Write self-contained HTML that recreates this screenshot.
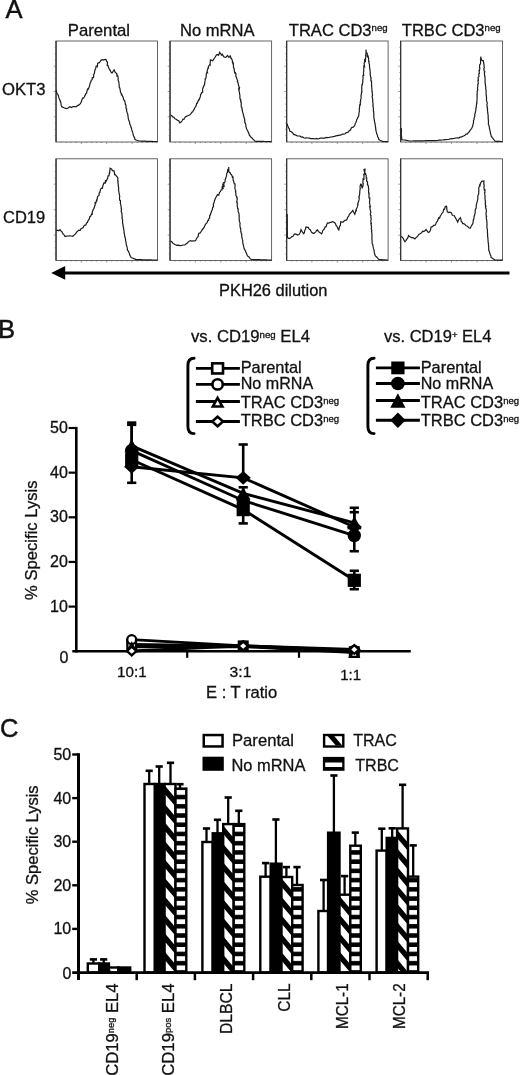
<!DOCTYPE html>
<html lang="en">
<head>
<meta charset="utf-8">
<title>Figure: PKH26 dilution and specific lysis</title>
<style>
html,body{margin:0;padding:0;background:#fff;}
body{width:520px;height:1075px;overflow:hidden;}
svg{display:block;will-change:transform;font-family:'Liberation Sans',sans-serif;}
text{font-kerning:normal;stroke:#111;stroke-width:0.3px;}
</style>
</head>
<body>
<svg width="520" height="1075" viewBox="0 0 520 1075">
<rect width="520" height="1075" fill="#fff"/>
<g id="panelA">
<text x="5.6" y="18.3" font-size="25.6" text-anchor="start" fill="#111" style="stroke-width:0.45px">A</text>
<text x="67.8" y="35.6" font-size="16.4" text-anchor="start" fill="#111" textLength="62.3" lengthAdjust="spacingAndGlyphs" >Parental</text>
<text x="180" y="35.6" font-size="16.4" text-anchor="start" fill="#111" textLength="74.5" lengthAdjust="spacingAndGlyphs" >No mRNA</text>
<text x="288.8" y="35.6" font-size="16.4" text-anchor="start" fill="#111" textLength="98.8" lengthAdjust="spacingAndGlyphs" >TRAC CD3<tspan font-size="9.5" dy="-4.2">neg</tspan></text>
<text x="401.8" y="35.6" font-size="16.4" text-anchor="start" fill="#111" textLength="98.8" lengthAdjust="spacingAndGlyphs" >TRBC CD3<tspan font-size="9.5" dy="-4.2">neg</tspan></text>
<text x="2.0" y="94.6" font-size="16.4" text-anchor="start" fill="#111" textLength="43.6" lengthAdjust="spacingAndGlyphs" >OKT3</text>
<text x="3.0" y="222.6" font-size="16.4" text-anchor="start" fill="#111" textLength="42.2" lengthAdjust="spacingAndGlyphs" >CD19</text>
<rect x="55.9" y="41.0" width="101.6" height="101.0" fill="#fff" stroke="#555" stroke-width="0.9"/>
<line x1="56.1" y1="41.0" x2="56.1" y2="142.0" stroke="#333" stroke-width="1.3"/>
<path d="M54.7 47.3H55.9M54.7 53.6H55.9M54.7 59.9H55.9M53.7 66.2H55.9M54.7 72.6H55.9M54.7 78.9H55.9M54.7 85.2H55.9M53.7 91.5H55.9M54.7 97.8H55.9M54.7 104.1H55.9M54.7 110.4H55.9M53.7 116.8H55.9M54.7 123.1H55.9M54.7 129.4H55.9M54.7 135.7H55.9M61.0 142.0v1.0M66.1 142.0v1.0M71.1 142.0v1.0M76.2 142.0v1.0M81.3 142.0v2.0M86.4 142.0v1.0M91.5 142.0v1.0M96.5 142.0v1.0M101.6 142.0v1.0M106.7 142.0v2.0M111.8 142.0v1.0M116.9 142.0v1.0M121.9 142.0v1.0M127.0 142.0v1.0M132.1 142.0v2.0M137.2 142.0v1.0M142.3 142.0v1.0M147.3 142.0v1.0M152.4 142.0v1.0" stroke="#555" stroke-width="0.6" fill="none"/>
<path d="M56.2 90.0 L56.4 90.9 L56.8 93.0 L57.4 94.1 L58.1 94.8 L58.7 96.6 L58.9 97.9 L59.9 99.9 L60.0 100.6 L60.9 102.7 L61.0 103.9 L61.3 105.8 L61.9 106.9 L62.3 106.9 L63.9 107.8 L65.0 108.2 L66.6 108.6 L68.1 108.0 L69.8 106.8 L71.5 107.5 L73.1 106.6 L74.4 106.5 L76.1 106.8 L77.5 105.6 L79.0 104.9 L79.9 104.2 L80.5 103.4 L81.6 101.1 L82.1 99.3 L83.0 97.9 L83.6 98.0 L84.2 97.0 L85.1 95.4 L85.6 93.9 L86.6 93.2 L87.0 91.2 L87.6 89.0 L88.5 89.1 L88.6 88.3 L89.5 86.0 L90.0 83.8 L90.2 82.9 L91.1 81.4 L91.2 80.3 L92.2 79.7 L92.3 77.6 L93.1 77.6 L93.6 77.2 L93.7 74.4 L94.5 73.3 L94.3 73.9 L94.8 70.3 L95.4 69.2 L95.6 69.0 L96.2 65.9 L96.7 65.8 L97.3 66.5 L97.6 63.8 L97.9 63.1 L99.4 62.7 L100.3 61.3 L101.2 60.1 L102.6 59.6 L103.3 60.0 L104.5 59.7 L105.6 59.4 L106.0 59.5 L106.6 61.1 L107.5 62.1 L107.2 65.4 L107.9 65.4 L108.3 67.1 L109.7 69.9 L109.8 69.9 L110.1 70.0 L110.8 72.0 L112.0 73.0 L114.1 70.0 L114.7 71.1 L115.2 72.4 L116.7 73.6 L117.0 75.8 L117.4 75.3 L118.0 76.5 L118.2 78.9 L118.0 79.7 L118.9 82.4 L119.0 83.9 L119.2 85.2 L119.3 85.1 L119.1 86.9 L119.6 87.5 L120.1 89.4 L120.5 92.3 L121.3 93.5 L121.4 94.7 L121.8 94.4 L122.3 95.6 L123.3 97.7 L123.5 99.4 L124.2 100.3 L124.6 100.5 L125.2 103.2 L125.3 104.3 L125.8 104.6 L126.0 106.3 L126.1 108.6 L126.7 109.1 L126.5 110.9 L126.8 111.4 L127.5 113.8 L127.8 114.1 L128.0 116.6 L128.2 117.1 L128.2 118.2 L128.8 120.6 L129.3 121.3 L129.7 122.4 L129.7 124.1 L130.2 124.7 L130.7 126.0 L131.0 127.3 L131.5 128.4 L131.7 129.9 L132.3 131.3 L132.7 132.4 L133.0 133.9 L133.3 135.3 L133.9 136.7 L134.6 137.7 L135.0 139.5 L136.2 140.0 L137.5 140.5 L138.8 141.0 L140.1 141.0 L141.4 141.1 L142.8 141.1 L144.1 141.2 L145.4 141.2 L146.8 141.3 L148.1 141.3 L149.5 141.3 L150.8 141.4 L152.1 141.4 L153.5 141.5 L154.8 141.5 L156.2 141.6 L157.5 141.6" fill="none" stroke="#1c1c1c" stroke-width="1.2" stroke-linejoin="miter" stroke-miterlimit="3"/>
<rect x="55.9" y="158.8" width="101.6" height="101.7" fill="#fff" stroke="#555" stroke-width="0.9"/>
<line x1="56.1" y1="158.8" x2="56.1" y2="260.5" stroke="#333" stroke-width="1.3"/>
<path d="M54.7 165.2H55.9M54.7 171.5H55.9M54.7 177.9H55.9M53.7 184.2H55.9M54.7 190.6H55.9M54.7 196.9H55.9M54.7 203.3H55.9M53.7 209.7H55.9M54.7 216.0H55.9M54.7 222.4H55.9M54.7 228.7H55.9M53.7 235.1H55.9M54.7 241.4H55.9M54.7 247.8H55.9M54.7 254.1H55.9M61.0 260.5v1.0M66.1 260.5v1.0M71.1 260.5v1.0M76.2 260.5v1.0M81.3 260.5v2.0M86.4 260.5v1.0M91.5 260.5v1.0M96.5 260.5v1.0M101.6 260.5v1.0M106.7 260.5v2.0M111.8 260.5v1.0M116.9 260.5v1.0M121.9 260.5v1.0M127.0 260.5v1.0M132.1 260.5v2.0M137.2 260.5v1.0M142.3 260.5v1.0M147.3 260.5v1.0M152.4 260.5v1.0" stroke="#555" stroke-width="0.6" fill="none"/>
<path d="M56.2 231.0 L57.5 230.2 L58.8 230.7 L60.0 229.7 L61.0 231.1 L61.7 231.4 L62.4 232.7 L63.3 234.4 L64.3 235.1 L65.0 236.5 L66.5 236.1 L68.1 236.0 L69.5 235.9 L71.2 236.0 L72.7 236.3 L73.4 235.7 L74.9 234.4 L75.5 233.9 L76.8 232.0 L77.7 231.1 L79.0 230.2 L80.2 230.4 L81.1 228.5 L81.7 228.4 L83.1 227.8 L84.0 225.8 L84.7 225.1 L85.8 225.2 L86.5 222.9 L87.4 222.5 L88.0 220.7 L88.4 220.4 L89.3 218.9 L89.9 216.6 L90.6 216.5 L91.6 214.1 L92.2 214.3 L92.3 211.7 L93.1 210.2 L93.1 209.5 L94.0 208.6 L94.0 208.2 L94.9 205.4 L95.2 205.2 L95.1 202.7 L95.8 203.0 L96.6 200.1 L96.9 200.4 L97.4 197.6 L97.8 196.3 L98.0 196.1 L99.1 195.2 L99.1 193.1 L99.8 192.6 L100.3 190.1 L101.0 188.6 L101.7 188.2 L102.3 188.3 L102.8 186.3 L103.3 184.5 L103.9 182.9 L105.0 183.3 L105.6 180.2 L105.9 181.5 L106.8 179.9 L107.8 177.5 L108.0 175.9 L109.0 175.7 L109.3 173.2 L109.6 173.3 L109.8 170.9 L110.1 168.2 L111.8 169.1 L112.3 170.7 L114.1 170.9 L114.7 175.2 L115.0 174.2 L116.0 175.5 L116.7 176.3 L117.9 177.9 L117.7 181.7 L118.3 180.5 L117.8 182.1 L118.0 182.4 L118.3 185.3 L118.4 185.8 L118.4 186.5 L118.7 188.1 L118.5 189.3 L118.8 191.5 L119.2 193.6 L119.5 195.4 L119.8 196.6 L119.5 197.0 L119.6 200.0 L120.1 200.6 L120.4 200.1 L120.4 203.6 L120.7 204.5 L120.7 204.3 L121.1 206.5 L121.2 208.5 L121.4 209.3 L121.4 210.8 L121.1 211.2 L121.5 212.3 L122.0 213.5 L122.0 215.8 L122.2 217.2 L122.0 218.2 L122.6 220.1 L122.6 220.9 L122.5 222.5 L122.8 223.9 L123.0 224.1 L123.1 226.5 L123.7 227.8 L123.5 228.7 L123.9 230.0 L124.1 231.7 L124.0 232.9 L124.4 233.5 L124.6 235.7 L124.8 236.8 L125.1 237.5 L125.6 239.5 L125.7 240.9 L126.0 242.0 L126.1 243.3 L126.4 245.1 L126.9 246.5 L127.0 246.9 L127.4 249.0 L127.4 250.0 L128.3 251.0 L128.8 252.3 L129.4 253.5 L129.9 255.4 L130.6 256.5 L131.3 257.8 L132.5 258.0 L133.8 258.6 L135.0 259.1 L136.2 259.6 L137.6 259.6 L138.9 259.7 L140.2 259.7 L141.6 259.7 L142.9 259.8 L144.2 259.8 L145.5 259.8 L146.9 259.9 L148.2 259.9 L149.5 259.9 L150.9 259.9 L152.2 260.0 L153.5 260.0 L154.8 260.0 L156.2 260.1 L157.5 260.1" fill="none" stroke="#1c1c1c" stroke-width="1.2" stroke-linejoin="miter" stroke-miterlimit="3"/>
<rect x="169.9" y="41.0" width="101.7" height="101.0" fill="#fff" stroke="#555" stroke-width="0.9"/>
<line x1="170.1" y1="41.0" x2="170.1" y2="142.0" stroke="#333" stroke-width="1.3"/>
<path d="M168.7 47.3H169.9M168.7 53.6H169.9M168.7 59.9H169.9M167.7 66.2H169.9M168.7 72.6H169.9M168.7 78.9H169.9M168.7 85.2H169.9M167.7 91.5H169.9M168.7 97.8H169.9M168.7 104.1H169.9M168.7 110.4H169.9M167.7 116.8H169.9M168.7 123.1H169.9M168.7 129.4H169.9M168.7 135.7H169.9M175.0 142.0v1.0M180.1 142.0v1.0M185.2 142.0v1.0M190.2 142.0v1.0M195.3 142.0v2.0M200.4 142.0v1.0M205.5 142.0v1.0M210.6 142.0v1.0M215.7 142.0v1.0M220.8 142.0v2.0M225.8 142.0v1.0M230.9 142.0v1.0M236.0 142.0v1.0M241.1 142.0v1.0M246.2 142.0v2.0M251.3 142.0v1.0M256.3 142.0v1.0M261.4 142.0v1.0M266.5 142.0v1.0" stroke="#555" stroke-width="0.6" fill="none"/>
<path d="M170.5 115.0 L171.8 115.6 L172.5 116.9 L173.9 117.2 L174.9 118.7 L176.2 119.2 L177.7 120.4 L178.9 121.0 L179.8 122.9 L181.1 122.0 L181.9 121.0 L182.9 119.3 L184.0 119.1 L185.0 117.3 L186.0 116.6 L187.7 115.7 L189.0 115.3 L189.9 114.7 L190.7 113.8 L191.9 112.3 L192.7 111.8 L193.6 110.2 L194.2 109.4 L194.7 107.9 L195.6 106.6 L196.3 105.4 L196.6 103.4 L197.3 103.3 L198.0 101.2 L198.9 99.6 L199.2 99.7 L199.9 97.8 L200.4 96.4 L200.7 94.3 L201.7 93.1 L201.7 92.5 L202.7 92.2 L202.5 89.9 L203.0 88.0 L203.4 87.1 L203.9 85.5 L204.6 85.0 L204.5 84.1 L204.9 81.9 L205.1 80.4 L205.3 78.2 L205.5 79.4 L206.2 76.7 L206.1 76.4 L206.4 73.4 L206.9 72.4 L207.5 72.7 L207.1 71.2 L208.2 67.3 L208.4 68.8 L208.4 66.5 L209.8 64.6 L210.2 64.9 L210.1 64.1 L210.4 59.9 L211.4 60.1 L212.7 60.8 L214.0 58.9 L215.1 57.3 L216.5 54.8 L217.9 54.6 L218.6 55.2 L219.7 52.3 L221.5 55.2 L222.1 54.2 L223.8 56.7 L224.7 57.1 L225.8 57.3 L227.5 55.5 L228.9 57.4 L230.0 56.5 L230.2 55.3 L231.2 59.2 L231.0 58.0 L232.2 60.0 L232.3 61.0 L233.2 63.2 L232.7 63.0 L233.4 64.8 L233.5 67.3 L234.3 69.0 L234.1 69.4 L234.5 72.2 L234.8 73.1 L235.5 72.6 L236.0 74.2 L235.7 76.1 L236.2 76.7 L237.0 79.2 L236.9 79.0 L237.7 80.5 L237.3 81.6 L238.0 82.6 L238.7 86.0 L239.1 86.8 L238.8 88.6 L239.4 88.2 L238.9 90.8 L239.4 92.0 L239.5 92.7 L239.5 93.6 L239.9 95.2 L239.9 97.9 L240.2 99.2 L240.7 99.4 L240.7 101.6 L240.9 101.5 L241.3 103.4 L241.2 104.5 L241.3 107.0 L242.0 107.5 L241.9 109.4 L242.2 109.6 L242.6 112.2 L243.2 113.3 L243.2 114.0 L243.7 116.2 L244.0 116.6 L244.1 118.0 L244.6 118.9 L244.8 121.4 L244.8 122.7 L245.4 123.2 L245.9 125.3 L245.8 126.1 L246.2 127.4 L246.7 129.2 L247.4 130.3 L248.0 131.5 L248.3 132.6 L248.9 133.6 L249.3 135.2 L250.1 136.0 L250.8 137.1 L252.0 137.9 L253.0 139.2 L254.0 140.2 L255.0 141.2 L256.4 141.3 L257.8 141.3 L259.1 141.3 L260.5 141.4 L261.9 141.4 L263.3 141.4 L264.7 141.5 L266.1 141.5 L267.5 141.5 L268.8 141.5 L270.2 141.6 L271.6 141.6" fill="none" stroke="#1c1c1c" stroke-width="1.2" stroke-linejoin="miter" stroke-miterlimit="3"/>
<rect x="169.9" y="158.8" width="101.7" height="101.7" fill="#fff" stroke="#555" stroke-width="0.9"/>
<line x1="170.1" y1="158.8" x2="170.1" y2="260.5" stroke="#333" stroke-width="1.3"/>
<path d="M168.7 165.2H169.9M168.7 171.5H169.9M168.7 177.9H169.9M167.7 184.2H169.9M168.7 190.6H169.9M168.7 196.9H169.9M168.7 203.3H169.9M167.7 209.7H169.9M168.7 216.0H169.9M168.7 222.4H169.9M168.7 228.7H169.9M167.7 235.1H169.9M168.7 241.4H169.9M168.7 247.8H169.9M168.7 254.1H169.9M175.0 260.5v1.0M180.1 260.5v1.0M185.2 260.5v1.0M190.2 260.5v1.0M195.3 260.5v2.0M200.4 260.5v1.0M205.5 260.5v1.0M210.6 260.5v1.0M215.7 260.5v1.0M220.8 260.5v2.0M225.8 260.5v1.0M230.9 260.5v1.0M236.0 260.5v1.0M241.1 260.5v1.0M246.2 260.5v2.0M251.3 260.5v1.0M256.3 260.5v1.0M261.4 260.5v1.0M266.5 260.5v1.0" stroke="#555" stroke-width="0.6" fill="none"/>
<path d="M170.5 241.0 L171.8 241.8 L173.0 243.4 L173.7 243.8 L175.0 244.6 L176.6 245.4 L178.3 245.1 L180.1 245.6 L181.8 245.4 L183.2 245.0 L184.9 244.9 L186.2 243.7 L187.4 243.0 L188.6 241.6 L190.2 240.6 L191.6 241.1 L193.6 240.9 L194.9 241.0 L195.8 240.1 L196.2 239.2 L197.3 237.3 L198.1 236.6 L198.5 234.3 L199.1 233.2 L200.0 233.2 L200.8 232.0 L201.6 230.9 L202.7 228.9 L203.1 228.9 L204.2 227.2 L204.9 225.5 L205.6 224.2 L206.6 223.2 L207.1 222.7 L207.9 220.3 L208.5 220.3 L209.0 218.4 L209.6 218.1 L209.7 215.4 L210.5 214.8 L210.6 214.0 L211.4 211.8 L211.5 211.1 L212.4 209.6 L212.5 208.3 L212.8 207.0 L213.6 206.8 L213.3 204.1 L213.7 203.6 L214.6 200.3 L214.9 200.0 L215.3 198.5 L216.0 197.3 L217.5 194.6 L218.8 195.2 L219.5 192.3 L220.3 191.9 L221.1 189.9 L222.1 189.7 L222.2 187.0 L223.1 187.8 L222.8 184.5 L224.0 185.6 L223.6 182.7 L224.4 182.8 L225.1 181.4 L225.1 179.9 L225.6 178.5 L226.6 175.9 L226.4 176.2 L227.0 172.7 L227.4 172.6 L227.7 169.8 L228.7 170.9 L228.8 166.9 L228.8 171.0 L229.4 172.6 L230.4 172.9 L230.7 174.2 L231.5 174.7 L232.1 176.0 L232.4 177.3 L233.0 177.1 L233.1 180.0 L234.0 182.2 L233.9 182.4 L234.2 183.7 L234.9 183.8 L235.1 185.0 L234.9 187.7 L235.1 189.4 L235.9 191.0 L235.4 191.7 L235.9 193.0 L235.9 195.6 L236.7 196.7 L236.8 197.6 L237.1 197.5 L237.2 199.6 L236.7 202.1 L237.5 203.1 L237.2 202.6 L237.2 205.6 L237.5 207.3 L237.6 208.4 L238.3 209.0 L238.0 209.7 L238.2 211.7 L238.3 212.0 L239.0 213.6 L239.1 216.0 L239.2 216.4 L239.2 217.6 L239.2 219.9 L239.5 221.7 L239.9 222.5 L240.1 223.0 L239.9 225.2 L240.1 226.8 L240.5 228.4 L240.8 228.8 L240.7 230.2 L240.9 232.0 L241.2 233.4 L241.8 234.5 L241.8 235.7 L241.7 236.7 L242.0 237.7 L242.4 239.7 L242.8 240.9 L242.7 241.8 L242.9 243.7 L243.2 244.3 L243.5 245.8 L243.8 247.2 L244.2 248.8 L244.8 250.0 L245.5 250.8 L245.8 252.1 L246.5 253.2 L247.1 255.1 L247.4 255.9 L248.8 256.8 L250.0 258.3 L251.2 259.5 L252.6 259.5 L254.0 259.6 L255.3 259.6 L256.7 259.7 L258.0 259.7 L259.4 259.7 L260.7 259.8 L262.1 259.8 L263.5 259.9 L264.8 259.9 L266.2 259.9 L267.5 260.0 L268.9 260.0 L270.2 260.1 L271.6 260.1" fill="none" stroke="#1c1c1c" stroke-width="1.2" stroke-linejoin="miter" stroke-miterlimit="3"/>
<rect x="286.5" y="41.0" width="101.6" height="101.0" fill="#fff" stroke="#555" stroke-width="0.9"/>
<line x1="286.7" y1="41.0" x2="286.7" y2="142.0" stroke="#333" stroke-width="1.3"/>
<path d="M285.3 47.3H286.5M285.3 53.6H286.5M285.3 59.9H286.5M284.3 66.2H286.5M285.3 72.6H286.5M285.3 78.9H286.5M285.3 85.2H286.5M284.3 91.5H286.5M285.3 97.8H286.5M285.3 104.1H286.5M285.3 110.4H286.5M284.3 116.8H286.5M285.3 123.1H286.5M285.3 129.4H286.5M285.3 135.7H286.5M291.6 142.0v1.0M296.7 142.0v1.0M301.7 142.0v1.0M306.8 142.0v1.0M311.9 142.0v2.0M317.0 142.0v1.0M322.1 142.0v1.0M327.1 142.0v1.0M332.2 142.0v1.0M337.3 142.0v2.0M342.4 142.0v1.0M347.5 142.0v1.0M352.5 142.0v1.0M357.6 142.0v1.0M362.7 142.0v2.0M367.8 142.0v1.0M372.9 142.0v1.0M377.9 142.0v1.0M383.0 142.0v1.0" stroke="#555" stroke-width="0.6" fill="none"/>
<path d="M287.0 123.8 L287.4 125.1 L288.0 126.4 L288.6 127.9 L289.2 128.5 L289.5 129.6 L289.9 131.2 L291.4 131.8 L292.5 132.7 L293.6 134.4 L295.0 134.8 L296.3 135.4 L297.4 136.0 L298.7 136.0 L300.1 136.1 L301.3 137.1 L302.6 136.9 L303.7 137.8 L305.0 138.2 L306.3 137.9 L307.7 138.0 L309.4 138.2 L310.8 138.6 L312.1 138.7 L313.5 138.7 L315.0 139.0 L316.4 138.4 L317.7 138.8 L319.0 138.6 L320.5 138.0 L322.1 138.2 L323.3 138.1 L324.7 138.1 L326.3 137.4 L327.6 137.6 L329.1 137.4 L330.4 137.0 L331.8 137.0 L333.1 136.6 L334.4 136.4 L335.9 135.9 L337.4 135.6 L338.4 135.4 L340.2 135.2 L341.1 134.9 L342.3 134.1 L343.8 134.2 L345.1 133.7 L346.3 132.6 L347.6 132.4 L348.6 131.8 L349.5 130.2 L350.5 130.1 L351.1 128.4 L352.0 127.4 L353.3 127.2 L354.2 126.1 L354.9 125.1 L355.3 123.3 L355.8 122.8 L356.4 121.0 L356.8 119.4 L357.5 118.5 L357.7 117.3 L358.3 116.9 L358.8 115.5 L358.9 113.0 L359.2 112.2 L359.4 110.8 L359.3 109.7 L359.3 108.9 L359.6 107.5 L359.7 104.8 L360.4 104.8 L360.2 102.1 L360.6 101.7 L360.6 99.7 L361.0 98.7 L361.2 97.2 L360.9 95.9 L361.2 95.4 L361.5 92.8 L361.7 91.4 L361.9 91.5 L361.7 90.0 L361.8 88.2 L361.7 88.0 L361.8 86.7 L362.1 83.7 L362.4 84.2 L362.9 81.5 L362.7 79.8 L363.0 79.3 L363.1 78.6 L362.9 76.1 L363.5 74.3 L363.6 74.4 L363.4 71.6 L363.7 72.2 L363.7 68.8 L363.7 69.9 L363.9 66.3 L364.6 66.7 L364.1 63.5 L364.5 62.4 L364.5 62.0 L364.7 60.0 L365.4 61.0 L365.8 56.5 L365.4 55.1 L366.0 57.1 L365.8 54.8 L366.2 51.4 L365.9 49.7 L366.1 52.1 L367.3 53.4 L367.3 55.7 L367.6 56.7 L368.1 56.2 L368.6 58.4 L368.7 61.5 L369.1 61.6 L368.8 62.4 L369.5 64.7 L369.5 66.2 L369.6 67.8 L369.6 68.4 L369.9 68.7 L369.9 69.3 L370.3 72.8 L370.0 73.6 L370.3 74.3 L370.4 76.2 L371.0 77.7 L370.9 77.7 L370.9 80.6 L371.5 81.1 L371.3 81.3 L371.6 82.9 L371.5 86.2 L371.6 85.4 L371.8 87.8 L371.9 89.0 L371.9 91.1 L372.3 91.4 L372.2 92.3 L372.3 94.0 L372.6 94.7 L372.1 96.5 L372.4 97.7 L372.5 98.5 L372.8 100.6 L372.6 101.7 L373.0 102.8 L373.0 105.4 L373.2 105.4 L373.0 107.0 L373.4 107.9 L373.4 110.3 L373.5 111.1 L373.8 112.0 L373.7 113.5 L373.9 115.4 L373.8 116.3 L373.9 117.8 L374.3 119.5 L374.4 120.8 L374.6 121.6 L374.8 123.0 L375.2 123.9 L375.2 125.5 L375.5 126.9 L375.7 128.4 L375.8 130.0 L376.2 131.5 L376.4 132.1 L376.9 134.2 L377.4 135.0 L377.6 136.8 L378.4 137.7 L378.8 139.5 L380.0 140.2 L381.2 140.8 L382.5 141.5 L383.9 141.5 L385.3 141.6 L386.7 141.6 L388.1 141.6" fill="none" stroke="#1c1c1c" stroke-width="1.2" stroke-linejoin="miter" stroke-miterlimit="3"/>
<rect x="286.5" y="158.8" width="101.6" height="101.7" fill="#fff" stroke="#555" stroke-width="0.9"/>
<line x1="286.7" y1="158.8" x2="286.7" y2="260.5" stroke="#333" stroke-width="1.3"/>
<path d="M285.3 165.2H286.5M285.3 171.5H286.5M285.3 177.9H286.5M284.3 184.2H286.5M285.3 190.6H286.5M285.3 196.9H286.5M285.3 203.3H286.5M284.3 209.7H286.5M285.3 216.0H286.5M285.3 222.4H286.5M285.3 228.7H286.5M284.3 235.1H286.5M285.3 241.4H286.5M285.3 247.8H286.5M285.3 254.1H286.5M291.6 260.5v1.0M296.7 260.5v1.0M301.7 260.5v1.0M306.8 260.5v1.0M311.9 260.5v2.0M317.0 260.5v1.0M322.1 260.5v1.0M327.1 260.5v1.0M332.2 260.5v1.0M337.3 260.5v2.0M342.4 260.5v1.0M347.5 260.5v1.0M352.5 260.5v1.0M357.6 260.5v1.0M362.7 260.5v2.0M367.8 260.5v1.0M372.9 260.5v1.0M377.9 260.5v1.0M383.0 260.5v1.0" stroke="#555" stroke-width="0.6" fill="none"/>
<path d="M287.2 214.0 L287.2 215.3 L287.2 216.6 L287.2 217.9 L287.2 219.2 L287.3 220.5 L287.3 221.8 L287.3 223.1 L287.3 224.4 L287.3 225.8 L287.3 227.1 L287.3 228.4 L287.3 229.7 L287.3 231.0 L287.4 232.3 L287.4 233.6 L287.4 234.9 L287.4 236.2 L287.4 237.5 L288.6 238.3 L289.8 238.3 L291.1 237.4 L291.8 236.6 L293.1 236.3 L294.2 234.3 L295.1 233.9 L296.5 234.4 L297.7 235.0 L298.8 234.6 L299.5 233.8 L300.2 232.4 L300.5 231.3 L301.0 229.6 L301.8 231.2 L302.7 232.5 L303.7 233.7 L304.4 232.6 L304.8 230.5 L305.0 230.0 L305.6 229.0 L305.8 227.3 L306.0 227.0 L307.3 227.4 L308.2 227.4 L309.3 229.3 L310.3 229.7 L310.9 231.0 L311.6 232.4 L312.9 233.1 L313.9 233.5 L314.7 232.6 L315.8 231.9 L316.5 230.5 L317.5 229.9 L318.3 231.4 L319.3 232.3 L320.2 232.8 L321.5 233.8 L322.2 232.7 L322.6 231.0 L323.5 229.7 L324.4 229.0 L325.1 226.8 L326.0 226.9 L326.8 224.3 L327.6 222.9 L328.8 223.2 L330.2 222.4 L331.3 222.4 L332.6 221.5 L333.8 222.2 L334.8 222.8 L335.6 224.0 L336.0 225.4 L336.6 225.7 L337.7 227.9 L338.1 229.0 L338.9 230.5 L339.0 228.8 L339.4 227.2 L339.8 226.0 L340.4 225.2 L340.6 223.0 L340.7 221.7 L341.3 221.8 L343.1 222.0 L344.9 220.4 L346.2 220.2 L346.9 219.7 L347.6 217.3 L348.6 216.5 L349.4 214.3 L350.8 212.7 L351.9 211.7 L352.8 210.4 L353.4 211.7 L354.8 214.2 L355.2 213.0 L355.9 210.3 L356.4 210.5 L356.2 209.3 L357.0 207.8 L357.6 206.2 L358.0 204.4 L357.6 204.3 L358.5 201.3 L358.4 202.1 L359.1 199.4 L359.3 197.7 L358.8 197.2 L359.4 195.5 L359.6 194.3 L359.8 192.1 L359.8 191.4 L359.8 190.9 L360.2 188.8 L360.3 189.2 L360.0 186.7 L360.8 183.7 L360.8 184.4 L361.3 184.4 L362.1 187.8 L362.3 187.8 L363.0 185.9 L363.0 184.4 L363.3 183.8 L362.9 183.2 L363.0 179.1 L363.4 179.2 L363.9 179.3 L364.0 175.1 L364.1 176.6 L363.7 174.4 L364.4 174.1 L364.6 172.1 L363.9 169.5 L364.8 169.0 L365.0 169.0 L364.8 173.3 L365.6 173.5 L365.4 174.5 L366.2 175.1 L366.2 178.6 L366.8 177.4 L366.6 181.2 L367.5 181.9 L367.4 184.4 L367.7 184.4 L367.6 184.8 L368.4 186.2 L368.5 188.2 L368.8 189.7 L368.5 190.3 L368.8 194.1 L369.2 192.8 L368.9 196.1 L369.1 196.9 L369.0 198.0 L369.9 198.0 L369.6 201.5 L369.5 202.1 L369.7 203.9 L370.1 205.6 L370.3 206.6 L369.7 206.6 L370.0 207.8 L370.0 208.9 L370.7 211.3 L370.8 212.4 L370.3 214.6 L370.6 215.3 L371.0 215.6 L370.9 217.2 L371.2 219.3 L370.9 220.6 L370.8 221.5 L371.4 223.7 L370.9 223.7 L371.2 225.1 L371.6 227.4 L371.2 228.6 L371.7 229.8 L371.9 230.9 L371.5 231.4 L372.0 233.7 L371.8 234.8 L372.1 236.0 L371.9 236.7 L371.9 238.2 L372.0 239.8 L372.1 240.8 L372.1 242.6 L372.3 243.9 L372.7 244.5 L373.0 246.2 L373.4 248.2 L373.6 249.0 L374.1 250.4 L374.3 252.4 L374.6 253.5 L375.0 255.3 L375.8 256.2 L376.7 257.0 L377.8 258.4 L378.8 259.5 L380.1 259.6 L381.4 259.7 L382.8 259.8 L384.1 259.8 L385.4 259.9 L386.8 260.0 L388.1 260.1" fill="none" stroke="#1c1c1c" stroke-width="1.2" stroke-linejoin="miter" stroke-miterlimit="3"/>
<rect x="400.5" y="41.0" width="102.0" height="101.0" fill="#fff" stroke="#555" stroke-width="0.9"/>
<line x1="400.7" y1="41.0" x2="400.7" y2="142.0" stroke="#333" stroke-width="1.3"/>
<path d="M399.3 47.3H400.5M399.3 53.6H400.5M399.3 59.9H400.5M398.3 66.2H400.5M399.3 72.6H400.5M399.3 78.9H400.5M399.3 85.2H400.5M398.3 91.5H400.5M399.3 97.8H400.5M399.3 104.1H400.5M399.3 110.4H400.5M398.3 116.8H400.5M399.3 123.1H400.5M399.3 129.4H400.5M399.3 135.7H400.5M405.6 142.0v1.0M410.7 142.0v1.0M415.8 142.0v1.0M420.9 142.0v1.0M426.0 142.0v2.0M431.1 142.0v1.0M436.2 142.0v1.0M441.3 142.0v1.0M446.4 142.0v1.0M451.5 142.0v2.0M456.6 142.0v1.0M461.7 142.0v1.0M466.8 142.0v1.0M471.9 142.0v1.0M477.0 142.0v2.0M482.1 142.0v1.0M487.2 142.0v1.0M492.3 142.0v1.0M497.4 142.0v1.0" stroke="#555" stroke-width="0.6" fill="none"/>
<path d="M401.2 128.0 L401.3 129.6 L401.5 130.6 L401.3 132.1 L401.3 133.5 L401.4 135.5 L401.5 136.4 L401.7 137.9 L401.6 139.5 L403.0 139.8 L404.4 140.0 L405.8 140.2 L407.2 140.5 L408.6 140.8 L410.0 141.0 L411.3 141.0 L412.6 141.0 L413.9 140.9 L415.3 140.9 L416.6 140.9 L417.9 140.9 L419.2 140.9 L420.5 140.8 L421.8 140.8 L423.2 140.8 L424.5 140.8 L425.8 140.7 L427.1 140.7 L428.4 140.7 L429.7 140.7 L431.1 140.7 L432.4 140.6 L433.7 140.6 L435.0 140.6 L436.4 140.5 L437.8 140.4 L439.2 140.2 L440.6 140.1 L441.9 140.0 L443.3 139.9 L444.7 139.7 L446.1 139.6 L447.5 139.5 L448.9 139.3 L450.4 138.8 L451.8 138.5 L453.0 138.7 L454.4 138.4 L455.7 138.0 L457.4 137.8 L458.8 138.1 L459.9 137.2 L461.1 137.2 L462.4 136.4 L463.6 136.0 L464.9 135.2 L466.1 134.1 L467.5 134.0 L468.3 132.4 L469.1 132.0 L469.9 130.7 L470.9 129.3 L471.5 128.7 L472.3 127.1 L472.7 126.3 L472.9 124.6 L473.3 123.6 L473.5 122.5 L473.5 120.5 L474.0 119.8 L474.0 118.4 L474.4 117.2 L474.9 116.0 L474.7 114.2 L475.2 113.4 L475.4 112.1 L475.9 109.7 L475.8 108.6 L476.3 107.3 L476.4 105.4 L476.5 104.8 L476.7 102.9 L476.9 102.9 L476.9 100.7 L477.0 99.5 L477.2 97.5 L477.0 98.0 L477.2 95.8 L476.9 94.6 L477.2 94.2 L477.2 91.2 L477.8 90.0 L477.4 88.2 L477.5 88.5 L477.9 85.5 L478.0 85.6 L477.7 84.6 L478.3 83.8 L477.9 80.3 L478.4 80.2 L478.1 78.3 L478.2 77.3 L479.0 76.6 L478.8 74.0 L478.6 74.4 L479.4 73.3 L479.1 70.6 L479.4 70.7 L479.9 67.9 L479.5 67.8 L479.7 64.7 L480.4 64.0 L480.5 63.9 L480.6 62.6 L480.5 58.6 L481.0 60.5 L480.7 56.6 L481.4 59.2 L481.8 60.1 L483.0 61.0 L483.4 60.8 L484.1 65.4 L484.1 66.6 L484.4 67.4 L483.7 68.9 L484.0 69.5 L484.1 70.9 L484.8 71.7 L484.3 73.3 L484.6 74.3 L484.6 76.8 L485.0 76.2 L485.0 77.0 L485.1 80.6 L485.1 80.1 L485.0 82.1 L485.1 82.3 L485.4 84.1 L485.4 85.4 L485.7 86.2 L485.8 89.3 L486.0 90.0 L486.1 90.4 L486.1 92.3 L486.1 93.9 L486.1 94.6 L486.4 95.7 L486.5 97.4 L486.5 98.0 L486.5 100.9 L486.8 101.6 L487.2 102.4 L487.2 103.8 L486.9 104.9 L487.2 107.4 L487.3 107.3 L487.6 109.3 L487.4 110.1 L487.8 112.6 L487.7 112.8 L488.0 114.4 L488.2 116.0 L488.1 117.6 L488.3 118.8 L488.3 120.1 L488.5 121.4 L488.4 122.9 L488.4 124.1 L488.8 125.3 L489.3 126.4 L489.3 127.9 L489.8 129.5 L490.0 130.7 L490.3 132.0 L490.5 133.6 L491.0 134.8 L491.2 136.2 L492.3 137.7 L493.1 138.7 L494.1 140.0 L495.0 141.2 L496.5 141.3 L498.0 141.4 L499.5 141.4 L501.0 141.5 L502.5 141.6" fill="none" stroke="#1c1c1c" stroke-width="1.2" stroke-linejoin="miter" stroke-miterlimit="3"/>
<rect x="400.5" y="158.8" width="102.0" height="101.7" fill="#fff" stroke="#555" stroke-width="0.9"/>
<line x1="400.7" y1="158.8" x2="400.7" y2="260.5" stroke="#333" stroke-width="1.3"/>
<path d="M399.3 165.2H400.5M399.3 171.5H400.5M399.3 177.9H400.5M398.3 184.2H400.5M399.3 190.6H400.5M399.3 196.9H400.5M399.3 203.3H400.5M398.3 209.7H400.5M399.3 216.0H400.5M399.3 222.4H400.5M399.3 228.7H400.5M398.3 235.1H400.5M399.3 241.4H400.5M399.3 247.8H400.5M399.3 254.1H400.5M405.6 260.5v1.0M410.7 260.5v1.0M415.8 260.5v1.0M420.9 260.5v1.0M426.0 260.5v2.0M431.1 260.5v1.0M436.2 260.5v1.0M441.3 260.5v1.0M446.4 260.5v1.0M451.5 260.5v2.0M456.6 260.5v1.0M461.7 260.5v1.0M466.8 260.5v1.0M471.9 260.5v1.0M477.0 260.5v2.0M482.1 260.5v1.0M487.2 260.5v1.0M492.3 260.5v1.0M497.4 260.5v1.0" stroke="#555" stroke-width="0.6" fill="none"/>
<path d="M401.2 236.2 L402.1 237.1 L403.2 238.3 L403.9 240.1 L404.9 241.7 L406.1 240.4 L406.7 239.3 L408.0 237.4 L408.5 235.6 L410.0 236.7 L411.4 237.6 L412.7 237.5 L413.8 238.1 L414.9 239.0 L416.0 237.6 L417.1 236.7 L417.8 236.2 L418.7 234.5 L419.7 233.9 L420.8 233.2 L421.6 232.8 L422.6 231.2 L423.7 231.6 L425.2 230.5 L426.1 229.5 L427.7 231.9 L428.5 232.5 L429.5 231.8 L430.3 230.5 L430.6 229.3 L431.1 227.0 L432.5 226.7 L433.6 225.3 L435.1 225.2 L436.0 223.5 L436.2 222.7 L437.4 221.1 L438.1 219.6 L438.6 217.8 L439.6 218.2 L440.0 216.6 L441.0 215.0 L441.9 213.3 L442.8 212.6 L443.2 211.4 L443.8 209.2 L444.5 209.3 L445.3 206.6 L446.5 206.3 L446.9 208.2 L446.7 208.6 L447.4 211.8 L448.6 212.5 L449.8 212.2 L451.5 212.9 L452.1 214.9 L453.0 215.5 L454.3 215.7 L455.3 217.7 L455.9 218.6 L456.4 219.5 L457.7 222.0 L458.6 219.7 L459.0 219.3 L460.3 217.7 L460.8 218.7 L460.9 219.5 L461.3 221.6 L462.2 222.2 L462.7 223.7 L463.6 223.7 L464.8 224.3 L466.1 225.8 L467.0 226.0 L468.1 226.9 L468.8 227.7 L470.2 228.2 L470.7 227.3 L471.5 225.8 L472.2 224.6 L472.7 223.9 L473.2 221.6 L473.2 220.1 L473.4 220.1 L474.1 217.9 L473.9 217.3 L474.6 215.0 L475.0 213.6 L475.3 211.9 L475.1 211.1 L475.3 209.7 L475.6 208.9 L476.2 208.0 L476.2 205.4 L476.4 204.6 L476.6 203.9 L477.2 201.6 L477.7 199.6 L477.9 198.6 L477.8 197.7 L477.8 195.8 L478.7 193.9 L478.7 192.9 L478.8 190.9 L478.9 190.3 L478.7 188.7 L479.0 187.4 L479.6 185.4 L479.5 184.5 L480.1 185.2 L480.3 183.8 L481.7 181.3 L483.9 180.9 L483.8 184.4 L484.2 185.0 L483.9 187.3 L484.2 189.1 L484.2 189.8 L484.9 189.7 L484.9 192.9 L484.5 192.3 L484.7 194.0 L485.0 195.8 L485.0 196.4 L485.0 199.3 L485.4 201.1 L485.2 202.1 L485.7 202.7 L485.2 203.8 L485.9 206.2 L485.4 206.2 L485.9 208.9 L485.8 208.3 L486.3 209.8 L486.4 211.3 L485.9 213.8 L486.2 215.0 L486.6 216.4 L486.2 216.7 L486.5 219.3 L486.8 220.6 L486.9 221.5 L486.8 222.6 L487.0 222.9 L487.0 224.9 L486.9 227.0 L486.9 228.0 L487.4 229.3 L487.4 229.9 L487.5 232.3 L487.4 233.0 L487.6 233.6 L487.6 235.4 L487.6 236.6 L488.0 238.4 L487.9 239.2 L488.1 240.8 L488.1 242.6 L488.5 243.2 L488.4 244.4 L488.6 245.9 L488.7 247.4 L488.7 248.4 L488.7 250.1 L489.3 251.5 L489.5 252.2 L489.9 253.6 L490.3 254.7 L490.9 256.0 L491.1 257.5 L492.5 258.3 L493.8 259.2 L495.0 260.0 L496.5 260.0 L498.0 260.1 L499.5 260.1 L501.0 260.1 L502.5 260.1" fill="none" stroke="#1c1c1c" stroke-width="1.2" stroke-linejoin="miter" stroke-miterlimit="3"/>
<line x1="62" y1="273" x2="509.5" y2="273" stroke="#000" stroke-width="3.2"/>
<polygon points="51.2,273 65.2,266 65.2,279.8" fill="#000"/>
<text x="219" y="296.3" font-size="16.4" text-anchor="start" fill="#111" textLength="108.5" lengthAdjust="spacingAndGlyphs" >PKH26 dilution</text>
</g>
<g id="panelB">
<text x="-1.9" y="337.7" font-size="25.6" text-anchor="start" fill="#111" style="stroke-width:0.5px">B</text>
<text x="191" y="341.8" font-size="16.4" text-anchor="start" fill="#111" textLength="119" lengthAdjust="spacingAndGlyphs" >vs. CD19<tspan font-size="9.5" dy="-4.2">neg</tspan><tspan dy="4.2"> EL4</tspan></text>
<text x="384" y="342.2" font-size="16.4" text-anchor="start" fill="#111" textLength="107.5" lengthAdjust="spacingAndGlyphs" >vs. CD19<tspan font-size="9.5" dy="-4.2">+</tspan><tspan dy="4.2"> EL4</tspan></text>
<path d="M194.1 358.2 Q187.9 358.2 187.9 365.4 V426.40000000000003 Q187.9 433.6 194.1 433.6" fill="none" stroke="#000" stroke-width="2.9" stroke-linecap="round"/>
<line x1="195.9" y1="368.4" x2="239.9" y2="368.4" stroke="#000" stroke-width="2.9"/>
<rect x="210.90" y="362.05" width="13.40" height="12.70" fill="#000"/>
<rect x="213.50" y="364.65" width="8.20" height="7.50" fill="#fff"/>
<text x="240.7" y="373.4" font-size="16.4" text-anchor="start" fill="#111" textLength="61" lengthAdjust="spacingAndGlyphs" >Parental</text>
<line x1="195.9" y1="384.4" x2="239.9" y2="384.4" stroke="#000" stroke-width="2.9"/>
<ellipse cx="217.60" cy="384.40" rx="6.45" ry="6.45" fill="#000"/>
<ellipse cx="217.60" cy="384.40" rx="3.85" ry="3.85" fill="#fff"/>
<text x="240.7" y="389.4" font-size="16.4" text-anchor="start" fill="#111" textLength="72.5" lengthAdjust="spacingAndGlyphs" >No mRNA</text>
<line x1="195.9" y1="401.5" x2="239.9" y2="401.5" stroke="#000" stroke-width="2.9"/>
<polygon points="217.60,395.20 224.55,407.80 210.65,407.80" fill="#000"/>
<polygon points="217.60,400.58 220.15,405.20 215.05,405.20" fill="#fff"/>
<text x="240.7" y="407.7" font-size="16.4" text-anchor="start" fill="#111" textLength="98.5" lengthAdjust="spacingAndGlyphs" >TRAC CD3<tspan font-size="9.5" dy="-4.2">neg</tspan></text>
<line x1="195.9" y1="421.5" x2="239.9" y2="421.5" stroke="#000" stroke-width="2.9"/>
<polygon points="217.60,414.90 225.00,421.50 217.60,428.10 210.20,421.50" fill="#000"/>
<polygon points="217.60,418.38 221.09,421.50 217.60,424.62 214.11,421.50" fill="#fff"/>
<text x="240.7" y="426.3" font-size="16.4" text-anchor="start" fill="#111" textLength="98.5" lengthAdjust="spacingAndGlyphs" >TRBC CD3<tspan font-size="9.5" dy="-4.2">neg</tspan></text>
<path d="M374.09999999999997 358.2 Q367.9 358.2 367.9 365.4 V426.40000000000003 Q367.9 433.6 374.09999999999997 433.6" fill="none" stroke="#000" stroke-width="2.9" stroke-linecap="round"/>
<line x1="375.9" y1="367.9" x2="419.9" y2="367.9" stroke="#000" stroke-width="2.9"/>
<rect x="391.25" y="361.50" width="13.30" height="12.80" fill="#000"/>
<text x="420.7" y="373.1" font-size="16.4" text-anchor="start" fill="#111" textLength="61" lengthAdjust="spacingAndGlyphs" >Parental</text>
<line x1="375.9" y1="383.5" x2="419.9" y2="383.5" stroke="#000" stroke-width="2.9"/>
<ellipse cx="397.90" cy="383.50" rx="6.90" ry="6.80" fill="#000"/>
<text x="420.7" y="389.4" font-size="16.4" text-anchor="start" fill="#111" textLength="72.5" lengthAdjust="spacingAndGlyphs" >No mRNA</text>
<line x1="375.9" y1="400.5" x2="419.9" y2="400.5" stroke="#000" stroke-width="2.9"/>
<polygon points="397.90,393.30 405.50,407.70 390.30,407.70" fill="#000"/>
<text x="420.7" y="407.7" font-size="16.4" text-anchor="start" fill="#111" textLength="98.5" lengthAdjust="spacingAndGlyphs" >TRAC CD3<tspan font-size="9.5" dy="-4.2">neg</tspan></text>
<line x1="375.9" y1="420.3" x2="419.9" y2="420.3" stroke="#000" stroke-width="2.9"/>
<polygon points="397.90,412.60 405.60,420.30 397.90,428.00 390.20,420.30" fill="#000"/>
<text x="420.7" y="426.1" font-size="16.4" text-anchor="start" fill="#111" textLength="98.5" lengthAdjust="spacingAndGlyphs" >TRBC CD3<tspan font-size="9.5" dy="-4.2">neg</tspan></text>
<line x1="76.3" y1="426.9" x2="76.3" y2="652.5" stroke="#000" stroke-width="2.6"/>
<line x1="72.3" y1="651.25" x2="410.8" y2="651.25" stroke="#000" stroke-width="2.6"/>
<line x1="68.6" y1="606.60" x2="76.3" y2="606.60" stroke="#000" stroke-width="2.2"/>
<text x="67.9" y="611.5" font-size="16" text-anchor="end" fill="#111" >10</text>
<line x1="68.6" y1="561.95" x2="76.3" y2="561.95" stroke="#000" stroke-width="2.2"/>
<text x="67.9" y="566.85" font-size="16" text-anchor="end" fill="#111" >20</text>
<line x1="68.6" y1="517.30" x2="76.3" y2="517.30" stroke="#000" stroke-width="2.2"/>
<text x="67.9" y="522.2" font-size="16" text-anchor="end" fill="#111" >30</text>
<line x1="68.6" y1="472.65" x2="76.3" y2="472.65" stroke="#000" stroke-width="2.2"/>
<text x="67.9" y="477.55" font-size="16" text-anchor="end" fill="#111" >40</text>
<line x1="68.6" y1="428.00" x2="76.3" y2="428.00" stroke="#000" stroke-width="2.2"/>
<text x="67.9" y="432.9" font-size="16" text-anchor="end" fill="#111" >50</text>
<text x="68.4" y="662.6" font-size="16" text-anchor="end" fill="#111" >0</text>
<line x1="187.2" y1="651.25" x2="187.2" y2="657.8" stroke="#000" stroke-width="2.2"/>
<line x1="299.0" y1="651.25" x2="299.0" y2="657.8" stroke="#000" stroke-width="2.2"/>
<text x="117.0" y="677.2" font-size="15" text-anchor="start" fill="#111" textLength="29.6" lengthAdjust="spacingAndGlyphs" >10:1</text>
<text x="229.6" y="677.2" font-size="15" text-anchor="start" fill="#111" textLength="21.8" lengthAdjust="spacingAndGlyphs" >3:1</text>
<text x="340.2" y="679.6" font-size="15" text-anchor="start" fill="#111" textLength="20.8" lengthAdjust="spacingAndGlyphs" >1:1</text>
<text x="206.0" y="697.7" font-size="16.3" text-anchor="start" fill="#111" textLength="71.2" lengthAdjust="spacingAndGlyphs" >E : T ratio</text>
<text transform="translate(37.2,600.0) rotate(-90)" font-size="16.5" fill="#111" textLength="119.6" lengthAdjust="spacingAndGlyphs">% Specific Lysis</text>
<polyline points="131.7,644.55 243.2,645.89 354.3,651.70" fill="none" stroke="#000" stroke-width="2.9"/>
<polyline points="131.7,639.64 243.2,645.89 354.3,650.36" fill="none" stroke="#000" stroke-width="2.9"/>
<polyline points="131.7,646.78 243.2,646.56 354.3,652.59" fill="none" stroke="#000" stroke-width="2.9"/>
<polyline points="131.7,651.03 243.2,645.89 354.3,649.46" fill="none" stroke="#000" stroke-width="2.9"/>
<rect x="126.20" y="639.05" width="11.00" height="11.00" fill="#000"/>
<rect x="128.50" y="641.35" width="6.40" height="6.40" fill="#fff"/>
<rect x="237.70" y="640.39" width="11.00" height="11.00" fill="#000"/>
<rect x="240.00" y="642.69" width="6.40" height="6.40" fill="#fff"/>
<rect x="348.80" y="646.20" width="11.00" height="11.00" fill="#000"/>
<rect x="351.10" y="648.50" width="6.40" height="6.40" fill="#fff"/>
<circle cx="131.70" cy="639.64" r="5.60" fill="#000"/>
<circle cx="131.70" cy="639.64" r="3.30" fill="#fff"/>
<circle cx="243.20" cy="645.89" r="5.60" fill="#000"/>
<circle cx="243.20" cy="645.89" r="3.30" fill="#fff"/>
<circle cx="354.30" cy="650.36" r="5.60" fill="#000"/>
<circle cx="354.30" cy="650.36" r="3.30" fill="#fff"/>
<polygon points="131.70,641.29 137.80,652.27 125.60,652.27" fill="#000"/>
<polygon points="131.70,646.03 133.89,649.98 129.51,649.98" fill="#fff"/>
<polygon points="243.20,641.07 249.30,652.05 237.10,652.05" fill="#000"/>
<polygon points="243.20,645.81 245.39,649.75 241.01,649.75" fill="#fff"/>
<polygon points="354.30,647.10 360.40,658.08 348.20,658.08" fill="#000"/>
<polygon points="354.30,651.84 356.49,655.78 352.11,655.78" fill="#fff"/>
<polygon points="131.70,645.18 138.20,651.03 131.70,656.88 125.20,651.03" fill="#000"/>
<polygon points="131.70,648.27 134.76,651.03 131.70,653.78 128.64,651.03" fill="#fff"/>
<polygon points="243.20,640.04 249.70,645.89 243.20,651.74 236.70,645.89" fill="#000"/>
<polygon points="243.20,643.14 246.26,645.89 243.20,648.65 240.14,645.89" fill="#fff"/>
<polygon points="354.30,643.61 360.80,649.46 354.30,655.31 347.80,649.46" fill="#000"/>
<polygon points="354.30,646.71 357.36,649.46 354.30,652.22 351.24,649.46" fill="#fff"/>
<path d="M131.7 445.80V422.60" fill="none" stroke="#000" stroke-width="2.6"/>
<path d="M127.1 422.60H136.29999999999998" fill="none" stroke="#000" stroke-width="2.6"/>
<path d="M131.7 450.60V424.80" fill="none" stroke="#000" stroke-width="2.6"/>
<path d="M127.1 424.80H136.29999999999998" fill="none" stroke="#000" stroke-width="2.6"/>
<path d="M131.7 466.80V482.80" fill="none" stroke="#000" stroke-width="2.6"/>
<path d="M127.1 482.80H136.29999999999998" fill="none" stroke="#000" stroke-width="2.6"/>
<path d="M243.2 477.80V444.50" fill="none" stroke="#000" stroke-width="2.6"/>
<path d="M238.6 444.50H247.79999999999998" fill="none" stroke="#000" stroke-width="2.6"/>
<path d="M243.2 493.40V487.30" fill="none" stroke="#000" stroke-width="2.6"/>
<path d="M238.6 487.30H247.79999999999998" fill="none" stroke="#000" stroke-width="2.6"/>
<path d="M243.2 509.60V523.40" fill="none" stroke="#000" stroke-width="2.6"/>
<path d="M238.6 523.40H247.79999999999998" fill="none" stroke="#000" stroke-width="2.6"/>
<path d="M354.3 522.80V507.80" fill="none" stroke="#000" stroke-width="2.6"/>
<path d="M349.7 507.80H358.90000000000003" fill="none" stroke="#000" stroke-width="2.6"/>
<path d="M354.3 527.00V512.20" fill="none" stroke="#000" stroke-width="2.6"/>
<path d="M349.7 512.20H358.90000000000003" fill="none" stroke="#000" stroke-width="2.6"/>
<path d="M354.3 535.60V551.20" fill="none" stroke="#000" stroke-width="2.6"/>
<path d="M349.7 551.20H358.90000000000003" fill="none" stroke="#000" stroke-width="2.6"/>
<path d="M354.3 580.30V570.80" fill="none" stroke="#000" stroke-width="2.6"/>
<path d="M349.7 570.80H358.90000000000003" fill="none" stroke="#000" stroke-width="2.6"/>
<path d="M354.3 580.30V589.20" fill="none" stroke="#000" stroke-width="2.6"/>
<path d="M349.7 589.20H358.90000000000003" fill="none" stroke="#000" stroke-width="2.6"/>
<polyline points="131.7,459.80 243.2,509.60 354.3,580.30" fill="none" stroke="#000" stroke-width="2.9"/>
<polyline points="131.7,450.60 243.2,500.50 354.3,535.60" fill="none" stroke="#000" stroke-width="2.9"/>
<polyline points="131.7,445.80 243.2,493.40 354.3,522.80" fill="none" stroke="#000" stroke-width="2.9"/>
<polyline points="131.7,466.80 243.2,477.80 354.3,527.00" fill="none" stroke="#000" stroke-width="2.9"/>
<rect x="125.10" y="453.20" width="13.20" height="13.20" fill="#000"/>
<rect x="236.60" y="503.00" width="13.20" height="13.20" fill="#000"/>
<rect x="347.70" y="573.70" width="13.20" height="13.20" fill="#000"/>
<circle cx="131.70" cy="450.60" r="6.70" fill="#000"/>
<circle cx="243.20" cy="500.50" r="6.70" fill="#000"/>
<circle cx="354.30" cy="535.60" r="6.70" fill="#000"/>
<polygon points="131.70,439.32 138.90,452.28 124.50,452.28" fill="#000"/>
<polygon points="243.20,486.92 250.40,499.88 236.00,499.88" fill="#000"/>
<polygon points="354.30,516.32 361.50,529.28 347.10,529.28" fill="#000"/>
<polygon points="131.70,459.96 139.30,466.80 131.70,473.64 124.10,466.80" fill="#000"/>
<polygon points="243.20,470.96 250.80,477.80 243.20,484.64 235.60,477.80" fill="#000"/>
<polygon points="354.30,520.16 361.90,527.00 354.30,533.84 346.70,527.00" fill="#000"/>
</g>
<g id="panelC">
<defs>
<pattern id="hh" patternUnits="userSpaceOnUse" width="40" height="9.23" patternTransform="translate(0 790.1)">
<rect width="40" height="9.23" fill="#000"/><rect y="0" width="40" height="4.7" fill="#fff"/>
</pattern>
</defs>
<text x="-0.1" y="736.9" font-size="25.6" text-anchor="start" fill="#111" style="stroke-width:0.45px">C</text>
<rect x="203.75" y="735.05" width="18.8" height="11.4" fill="#fff" stroke="#000" stroke-width="2.5"/>
<rect x="202.5" y="756.7" width="21.3" height="14.1" fill="#000"/>
<text x="232.0" y="746.3" font-size="16.4" text-anchor="start" fill="#111" textLength="62" lengthAdjust="spacingAndGlyphs" >Parental</text>
<text x="231.4" y="770.8" font-size="16.4" text-anchor="start" fill="#111" textLength="74" lengthAdjust="spacingAndGlyphs" >No mRNA</text>
<rect x="324.1" y="735.0" width="19.2" height="11.5" fill="#fff" stroke="#000" stroke-width="2.4"/>
<polygon points="327.6,736.0 334.2,736.0 342.2,745.5 335.8,745.5" fill="#000"/>
<rect x="322.9" y="756.9" width="21.6" height="13.9" fill="#000"/>
<rect x="325.2" y="762.5" width="17.0" height="4.5" fill="#fff"/>
<text x="353.2" y="745.9" font-size="16.4" text-anchor="start" fill="#111" textLength="43.6" lengthAdjust="spacingAndGlyphs" >TRAC</text>
<text x="355.2" y="770.8" font-size="16.4" text-anchor="start" fill="#111" textLength="43.8" lengthAdjust="spacingAndGlyphs" >TRBC</text>
<path d="M93.4 963.3V959.4" stroke="#000" stroke-width="2.3" fill="none"/>
<path d="M89.8 959.4H97.0" stroke="#000" stroke-width="2.6" fill="none"/>
<path d="M103.7 963.3V959.4" stroke="#000" stroke-width="2.3" fill="none"/>
<path d="M100.1 959.4H107.3" stroke="#000" stroke-width="2.6" fill="none"/>
<rect x="87.80" y="963.50" width="11.40" height="9.00" fill="#fff" stroke="#000" stroke-width="2.4"/>
<rect x="99.20" y="963.50" width="9.70" height="9.00" fill="#000" stroke="#000" stroke-width="2.4"/>
<clipPath id="cp1"><rect x="108.90" y="967.50" width="9.50" height="5.00"/></clipPath>
<rect x="108.90" y="967.50" width="9.50" height="5.00" fill="#fff"/>
<path d="M109.10 969.12L118.20 979.86V988.16L109.10 977.42Z" fill="#000" clip-path="url(#cp1)"/>
<rect x="108.90" y="967.50" width="9.50" height="5.00" fill="none" stroke="#000" stroke-width="2.4"/>
<rect x="118.40" y="967.50" width="11.80" height="5.00" fill="#000" stroke="#000" stroke-width="2.4"/>
<path d="M149.2 783.8V770.8" stroke="#000" stroke-width="2.3" fill="none"/>
<path d="M145.6 770.8H152.8" stroke="#000" stroke-width="2.6" fill="none"/>
<path d="M159.2 783.8V766.5" stroke="#000" stroke-width="2.3" fill="none"/>
<path d="M155.6 766.5H162.8" stroke="#000" stroke-width="2.6" fill="none"/>
<path d="M170.5 783.8V762.8" stroke="#000" stroke-width="2.3" fill="none"/>
<path d="M166.9 762.8H174.1" stroke="#000" stroke-width="2.6" fill="none"/>
<path d="M180.0 788.4V784.2" stroke="#000" stroke-width="2.3" fill="none"/>
<path d="M176.4 784.2H183.6" stroke="#000" stroke-width="2.6" fill="none"/>
<rect x="144.50" y="784.00" width="10.40" height="188.50" fill="#fff" stroke="#000" stroke-width="2.4"/>
<rect x="154.90" y="784.00" width="9.70" height="188.50" fill="#000" stroke="#000" stroke-width="2.4"/>
<clipPath id="cp2"><rect x="164.60" y="784.00" width="10.90" height="188.50"/></clipPath>
<rect x="164.60" y="784.00" width="10.90" height="188.50" fill="#fff"/>
<path d="M164.80 785.62L175.30 798.01V806.31L164.80 793.92ZM164.80 804.08L175.30 816.47V824.77L164.80 812.38ZM164.80 822.54L175.30 834.93V843.23L164.80 830.84ZM164.80 841.00L175.30 853.39V861.69L164.80 849.30ZM164.80 859.46L175.30 871.85V880.15L164.80 867.76ZM164.80 877.92L175.30 890.31V898.61L164.80 886.22ZM164.80 896.38L175.30 908.77V917.07L164.80 904.68ZM164.80 914.84L175.30 927.23V935.53L164.80 923.14ZM164.80 933.30L175.30 945.69V953.99L164.80 941.60ZM164.80 951.76L175.30 964.15V972.45L164.80 960.06ZM164.80 970.22L175.30 982.61V990.91L164.80 978.52Z" fill="#000" clip-path="url(#cp2)"/>
<rect x="164.60" y="784.00" width="10.90" height="188.50" fill="none" stroke="#000" stroke-width="2.4"/>
<rect x="175.50" y="788.60" width="10.80" height="183.90" fill="url(#hh)" stroke="#000" stroke-width="2.4"/>
<path d="M206.5 841.8V828.5" stroke="#000" stroke-width="2.3" fill="none"/>
<path d="M202.9 828.5H210.1" stroke="#000" stroke-width="2.6" fill="none"/>
<path d="M217.5 833.1V819.8" stroke="#000" stroke-width="2.3" fill="none"/>
<path d="M213.9 819.8H221.1" stroke="#000" stroke-width="2.6" fill="none"/>
<path d="M228.2 823.9V797.5" stroke="#000" stroke-width="2.3" fill="none"/>
<path d="M224.6 797.5H231.8" stroke="#000" stroke-width="2.6" fill="none"/>
<path d="M238.8 823.9V810.8" stroke="#000" stroke-width="2.3" fill="none"/>
<path d="M235.2 810.8H242.4" stroke="#000" stroke-width="2.6" fill="none"/>
<rect x="202.40" y="842.00" width="10.30" height="130.50" fill="#fff" stroke="#000" stroke-width="2.4"/>
<rect x="212.70" y="833.30" width="10.50" height="139.20" fill="#000" stroke="#000" stroke-width="2.4"/>
<clipPath id="cp3"><rect x="223.20" y="824.10" width="10.50" height="148.40"/></clipPath>
<rect x="223.20" y="824.10" width="10.50" height="148.40" fill="#fff"/>
<path d="M223.40 825.72L233.50 837.64V845.94L223.40 834.02ZM223.40 844.18L233.50 856.10V864.40L223.40 852.48ZM223.40 862.64L233.50 874.56V882.86L223.40 870.94ZM223.40 881.10L233.50 893.02V901.32L223.40 889.40ZM223.40 899.56L233.50 911.48V919.78L223.40 907.86ZM223.40 918.02L233.50 929.94V938.24L223.40 926.32ZM223.40 936.48L233.50 948.40V956.70L223.40 944.78ZM223.40 954.94L233.50 966.86V975.16L223.40 963.24ZM223.40 973.40L233.50 985.32V993.62L223.40 981.70Z" fill="#000" clip-path="url(#cp3)"/>
<rect x="223.20" y="824.10" width="10.50" height="148.40" fill="none" stroke="#000" stroke-width="2.4"/>
<rect x="233.70" y="824.10" width="10.60" height="148.40" fill="url(#hh)" stroke="#000" stroke-width="2.4"/>
<path d="M265.6 876.5V863.1" stroke="#000" stroke-width="2.3" fill="none"/>
<path d="M262.0 863.1H269.2" stroke="#000" stroke-width="2.6" fill="none"/>
<path d="M275.9 863.5V819.5" stroke="#000" stroke-width="2.3" fill="none"/>
<path d="M272.3 819.5H279.5" stroke="#000" stroke-width="2.6" fill="none"/>
<path d="M286.4 876.8V867.1" stroke="#000" stroke-width="2.3" fill="none"/>
<path d="M282.8 867.1H290.0" stroke="#000" stroke-width="2.6" fill="none"/>
<path d="M297.0 884.8V867.1" stroke="#000" stroke-width="2.3" fill="none"/>
<path d="M293.4 867.1H300.6" stroke="#000" stroke-width="2.6" fill="none"/>
<rect x="260.30" y="876.70" width="10.40" height="95.80" fill="#fff" stroke="#000" stroke-width="2.4"/>
<rect x="270.70" y="863.70" width="10.80" height="108.80" fill="#000" stroke="#000" stroke-width="2.4"/>
<clipPath id="cp4"><rect x="281.50" y="877.00" width="10.70" height="95.50"/></clipPath>
<rect x="281.50" y="877.00" width="10.70" height="95.50" fill="#fff"/>
<path d="M281.70 878.62L292.00 890.77V899.07L281.70 886.92ZM281.70 897.08L292.00 909.23V917.53L281.70 905.38ZM281.70 915.54L292.00 927.69V935.99L281.70 923.84ZM281.70 934.00L292.00 946.15V954.45L281.70 942.30ZM281.70 952.46L292.00 964.61V972.91L281.70 960.76ZM281.70 970.92L292.00 983.07V991.37L281.70 979.22Z" fill="#000" clip-path="url(#cp4)"/>
<rect x="281.50" y="877.00" width="10.70" height="95.50" fill="none" stroke="#000" stroke-width="2.4"/>
<rect x="292.20" y="885.00" width="10.40" height="87.50" fill="url(#hh)" stroke="#000" stroke-width="2.4"/>
<path d="M323.6 910.8V880.0" stroke="#000" stroke-width="2.3" fill="none"/>
<path d="M320.0 880.0H327.2" stroke="#000" stroke-width="2.6" fill="none"/>
<path d="M333.9 832.5V775.5" stroke="#000" stroke-width="2.3" fill="none"/>
<path d="M330.3 775.5H337.5" stroke="#000" stroke-width="2.6" fill="none"/>
<path d="M344.6 894.5V876.1" stroke="#000" stroke-width="2.3" fill="none"/>
<path d="M341.0 876.1H348.2" stroke="#000" stroke-width="2.6" fill="none"/>
<path d="M355.3 845.5V832.6" stroke="#000" stroke-width="2.3" fill="none"/>
<path d="M351.7 832.6H358.9" stroke="#000" stroke-width="2.6" fill="none"/>
<rect x="318.40" y="911.00" width="9.70" height="61.50" fill="#fff" stroke="#000" stroke-width="2.4"/>
<rect x="328.10" y="832.70" width="11.40" height="139.80" fill="#000" stroke="#000" stroke-width="2.4"/>
<clipPath id="cp5"><rect x="339.50" y="894.70" width="10.80" height="77.80"/></clipPath>
<rect x="339.50" y="894.70" width="10.80" height="77.80" fill="#fff"/>
<path d="M339.70 896.32L350.10 908.59V916.89L339.70 904.62ZM339.70 914.78L350.10 927.05V935.35L339.70 923.08ZM339.70 933.24L350.10 945.51V953.81L339.70 941.54ZM339.70 951.70L350.10 963.97V972.27L339.70 960.00ZM339.70 970.16L350.10 982.43V990.73L339.70 978.46Z" fill="#000" clip-path="url(#cp5)"/>
<rect x="339.50" y="894.70" width="10.80" height="77.80" fill="none" stroke="#000" stroke-width="2.4"/>
<rect x="350.30" y="845.70" width="10.50" height="126.80" fill="url(#hh)" stroke="#000" stroke-width="2.4"/>
<path d="M381.8 850.4V828.7" stroke="#000" stroke-width="2.3" fill="none"/>
<path d="M378.2 828.7H385.4" stroke="#000" stroke-width="2.6" fill="none"/>
<path d="M392.2 837.7V828.3" stroke="#000" stroke-width="2.3" fill="none"/>
<path d="M388.6 828.3H395.8" stroke="#000" stroke-width="2.6" fill="none"/>
<path d="M402.6 828.2V784.8" stroke="#000" stroke-width="2.3" fill="none"/>
<path d="M399.0 784.8H406.2" stroke="#000" stroke-width="2.6" fill="none"/>
<path d="M413.2 876.4V845.4" stroke="#000" stroke-width="2.3" fill="none"/>
<path d="M409.6 845.4H416.8" stroke="#000" stroke-width="2.6" fill="none"/>
<rect x="376.60" y="850.60" width="10.10" height="121.90" fill="#fff" stroke="#000" stroke-width="2.4"/>
<rect x="386.70" y="837.90" width="10.40" height="134.60" fill="#000" stroke="#000" stroke-width="2.4"/>
<clipPath id="cp6"><rect x="397.10" y="828.40" width="10.90" height="144.10"/></clipPath>
<rect x="397.10" y="828.40" width="10.90" height="144.10" fill="#fff"/>
<path d="M397.30 830.02L407.80 842.41V850.71L397.30 838.32ZM397.30 848.48L407.80 860.87V869.17L397.30 856.78ZM397.30 866.94L407.80 879.33V887.63L397.30 875.24ZM397.30 885.40L407.80 897.79V906.09L397.30 893.70ZM397.30 903.86L407.80 916.25V924.55L397.30 912.16ZM397.30 922.32L407.80 934.71V943.01L397.30 930.62ZM397.30 940.78L407.80 953.17V961.47L397.30 949.08ZM397.30 959.24L407.80 971.63V979.93L397.30 967.54Z" fill="#000" clip-path="url(#cp6)"/>
<rect x="397.10" y="828.40" width="10.90" height="144.10" fill="none" stroke="#000" stroke-width="2.4"/>
<rect x="408.00" y="876.60" width="10.20" height="95.90" fill="url(#hh)" stroke="#000" stroke-width="2.4"/>
<line x1="78.5" y1="753.2" x2="78.5" y2="980.0" stroke="#000" stroke-width="3"/>
<line x1="72.2" y1="972.6" x2="429" y2="972.6" stroke="#000" stroke-width="2.9"/>
<line x1="72.2" y1="928.90" x2="78.5" y2="928.90" stroke="#000" stroke-width="2.4"/>
<text x="71.2" y="934.4" font-size="16" text-anchor="end" fill="#111" >10</text>
<line x1="72.2" y1="885.30" x2="78.5" y2="885.30" stroke="#000" stroke-width="2.4"/>
<text x="71.2" y="890.8" font-size="16" text-anchor="end" fill="#111" >20</text>
<line x1="72.2" y1="841.70" x2="78.5" y2="841.70" stroke="#000" stroke-width="2.4"/>
<text x="71.2" y="847.2" font-size="16" text-anchor="end" fill="#111" >30</text>
<line x1="72.2" y1="798.10" x2="78.5" y2="798.10" stroke="#000" stroke-width="2.4"/>
<text x="71.2" y="803.6" font-size="16" text-anchor="end" fill="#111" >40</text>
<line x1="72.2" y1="754.50" x2="78.5" y2="754.50" stroke="#000" stroke-width="2.4"/>
<text x="71.2" y="760.0" font-size="16" text-anchor="end" fill="#111" >50</text>
<text x="71.4" y="978.6" font-size="16" text-anchor="end" fill="#111" >0</text>
<line x1="136.7" y1="972.5" x2="136.7" y2="980.2" stroke="#000" stroke-width="2.5"/>
<line x1="194.9" y1="972.5" x2="194.9" y2="980.2" stroke="#000" stroke-width="2.5"/>
<line x1="253.1" y1="972.5" x2="253.1" y2="980.2" stroke="#000" stroke-width="2.5"/>
<line x1="311.3" y1="972.5" x2="311.3" y2="980.2" stroke="#000" stroke-width="2.5"/>
<line x1="369.5" y1="972.5" x2="369.5" y2="980.2" stroke="#000" stroke-width="2.5"/>
<line x1="427.7" y1="972.5" x2="427.7" y2="980.2" stroke="#000" stroke-width="2.5"/>
<text transform="translate(38.3,904.2) rotate(-90)" font-size="16.5" fill="#111" textLength="118.8" lengthAdjust="spacingAndGlyphs">% Specific Lysis</text>
<text transform="translate(118.0,1075.8) rotate(-90)" font-size="16" fill="#111" textLength="92.4" lengthAdjust="spacingAndGlyphs">CD19<tspan font-size="9" dy="-3.8">neg</tspan><tspan dy="3.8"> EL4</tspan></text>
<text transform="translate(174.4,1075.8) rotate(-90)" font-size="16" fill="#111" textLength="92.4" lengthAdjust="spacingAndGlyphs">CD19<tspan font-size="9" dy="-3.8">pos</tspan><tspan dy="3.8"> EL4</tspan></text>
<text transform="translate(232.4,1034.0) rotate(-90)" font-size="16" fill="#111" textLength="50.6" lengthAdjust="spacingAndGlyphs">DLBCL</text>
<text transform="translate(289.6,1011.8) rotate(-90)" font-size="16" fill="#111" textLength="28.4" lengthAdjust="spacingAndGlyphs">CLL</text>
<text transform="translate(347.7,1029.0) rotate(-90)" font-size="16" fill="#111" textLength="45.6" lengthAdjust="spacingAndGlyphs">MCL-1</text>
<text transform="translate(404.8,1029.0) rotate(-90)" font-size="16" fill="#111" textLength="45.6" lengthAdjust="spacingAndGlyphs">MCL-2</text>
</g>
</svg>
</body>
</html>
